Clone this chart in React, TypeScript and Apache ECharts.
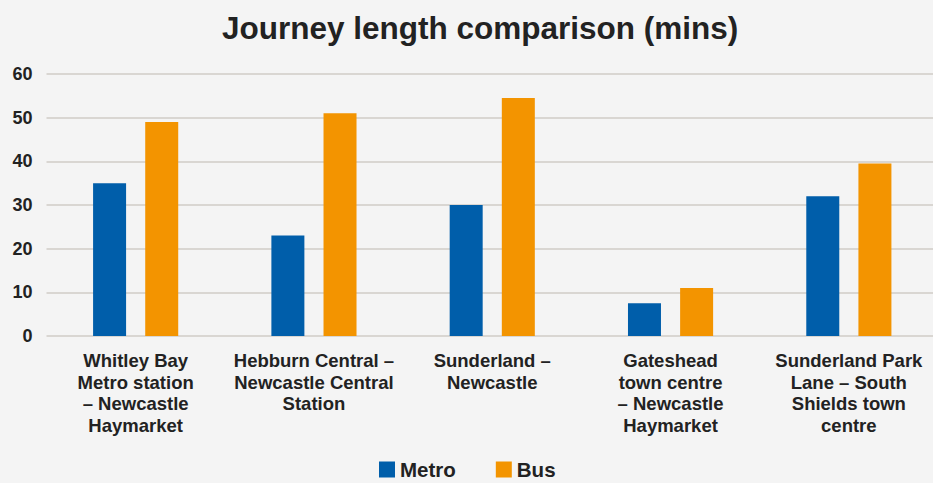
import React, { useEffect, useRef } from "react";
import * as echarts from "echarts";

const categories = [
  "Whitley Bay\nMetro station\n– Newcastle\nHaymarket",
  "Hebburn Central –\nNewcastle Central\nStation",
  "Sunderland –\nNewcastle",
  "Gateshead\ntown centre\n– Newcastle\nHaymarket",
  "Sunderland Park\nLane – South\nShields town\ncentre",
];
const metroValues = [35, 23, 30, 7.5, 32];
const busValues = [49, 51, 54.5, 11, 39.5];
const yTicks = { min: 0, max: 60, interval: 10 };

export default function App() {
  const ref = useRef<HTMLDivElement>(null);
  useEffect(() => {
    document.body.style.margin = "0";
    document.body.style.overflow = "hidden";
    const chart = echarts.init(ref.current!, null, { renderer: "svg" });
    const font = "'Liberation Sans', Arial, sans-serif";
    chart.setOption({
      animation: false,
      backgroundColor: "#f4f4f4",
      textStyle: { fontFamily: font },
      title: {
        text: "Journey length comparison (mins)",
        left: 217,
        top: 7,
        textStyle: { fontSize: 31.5, fontWeight: "bold", color: "#222222", fontFamily: font },
      },
      legend: {
        bottom: -2,
        left: 374,
        itemWidth: 16,
        itemHeight: 16,
        itemGap: 40,
        icon: "rect",
        textStyle: { fontSize: 20.5, fontWeight: "bold", color: "#222222", fontFamily: font },
        data: ["Metro", "Bus"],
      },
      grid: { left: 46.5, right: 0, top: 74, bottom: 147, containLabel: false },
      xAxis: {
        type: "category",
        data: categories,
        axisLine: { show: false },
        axisTick: { show: false },
        axisLabel: {
          interval: 0,
          margin: 14,
          fontSize: 18.5,
          lineHeight: 21.5,
          fontWeight: "bold",
          color: "#222222",
          fontFamily: font,
        },
      },
      yAxis: {
        type: "value",
        min: yTicks.min,
        max: yTicks.max,
        interval: yTicks.interval,
        axisLine: { show: false },
        axisTick: { show: false },
        splitLine: { lineStyle: { color: "#d9d6d2", width: 2 } },
        axisLabel: {
          margin: 14,
          fontSize: 18,
          fontWeight: "bold",
          color: "#222222",
          fontFamily: font,
        },
      },
      series: [
        {
          name: "Metro",
          type: "bar",
          data: metroValues,
          barWidth: 33,
          barGap: "58%",
          itemStyle: { color: "#005eaa" },
        },
        {
          name: "Bus",
          type: "bar",
          data: busValues,
          barWidth: 33,
          itemStyle: { color: "#f39400" },
        },
      ],
    });
    return () => chart.dispose();
  }, []);
  return (
    <div style={{ width: 933, height: 483, overflow: "hidden" }}>
      <div ref={ref} style={{ width: 938, height: 483 }} />
    </div>
  );
}
